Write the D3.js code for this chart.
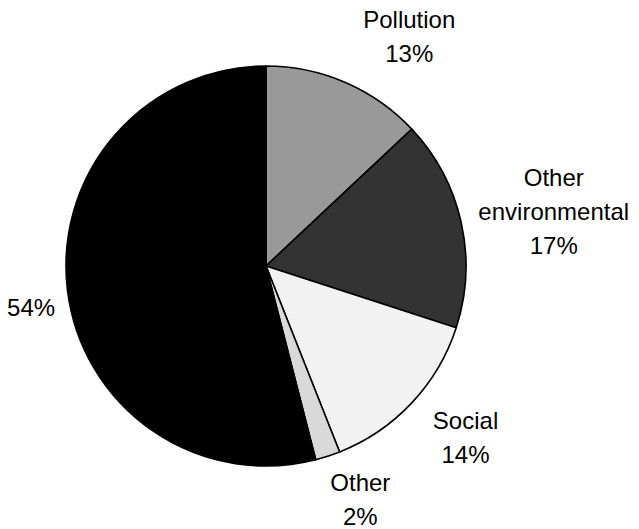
<!DOCTYPE html>
<html>
<head>
<meta charset="utf-8">
<script src="https://cdn.jsdelivr.net/npm/d3@7"></script>
<style>
  html, body { margin: 0; padding: 0; background: #fff; }
  svg text { font-family: "Liberation Sans", Arial, Helvetica, sans-serif; font-size: 24px; fill: #000; }
</style>
</head>
<body>
<svg id="chart" width="639" height="529"></svg>
<script>
// Share of items by category (percent), drawn clockwise from 12 o'clock
const categories = ["Pollution", "Other environmental", "Social", "Other", ""];
const values = [13, 17, 14, 2, 54];
const labelLines = [["Pollution"], ["Other", "environmental"], ["Social"], ["Other"], []];
const fills = ["#999999", "#333333", "#f2f2f2", "#d9d9d9", "#000000"];

// Small offsets that move each label block off its slice's ray
const labelNudge = [[40, 9], [34, 2], [10, -7], [14, -14], [23, 9]];

const svg = d3.select("#chart");
const cx = 266, cy = 266, radius = 200, labelRadius = 260, lineHeight = 34;

const data = categories.map((c, i) => ({ name: c, value: values[i], lines: labelLines[i], fill: fills[i], nudge: labelNudge[i] }));

const pie = d3.pie().sort(null).value(d => d.value).startAngle(0).endAngle(2 * Math.PI);
const arcs = pie(data);
const arc = d3.arc().innerRadius(0).outerRadius(radius);
const labelArc = d3.arc().innerRadius(labelRadius).outerRadius(labelRadius);

const g = svg.append("g").attr("transform", `translate(${cx},${cy})`);

g.selectAll("path.slice")
  .data(arcs)
  .join("path")
  .attr("class", "slice")
  .attr("d", arc)
  .attr("fill", d => d.data.fill)
  .attr("stroke", "#000")
  .attr("stroke-width", 1.6)
  .attr("stroke-linejoin", "round");

const labels = g.selectAll("text.label")
  .data(arcs)
  .join("text")
  .attr("class", "label")
  .attr("text-anchor", "middle");

labels.each(function(d) {
  const [x, y] = labelArc.centroid(d);
  const lx = x + d.data.nudge[0];
  const ly = y + d.data.nudge[1];
  const lines = d.data.lines.concat([d.data.value + "%"]);
  const first = ly - (lines.length - 1) * lineHeight / 2 + 8.6;
  const t = d3.select(this);
  lines.forEach((s, k) => {
    t.append("tspan").attr("x", lx).attr("y", first + k * lineHeight).text(s);
  });
});
</script>
</body>
</html>
